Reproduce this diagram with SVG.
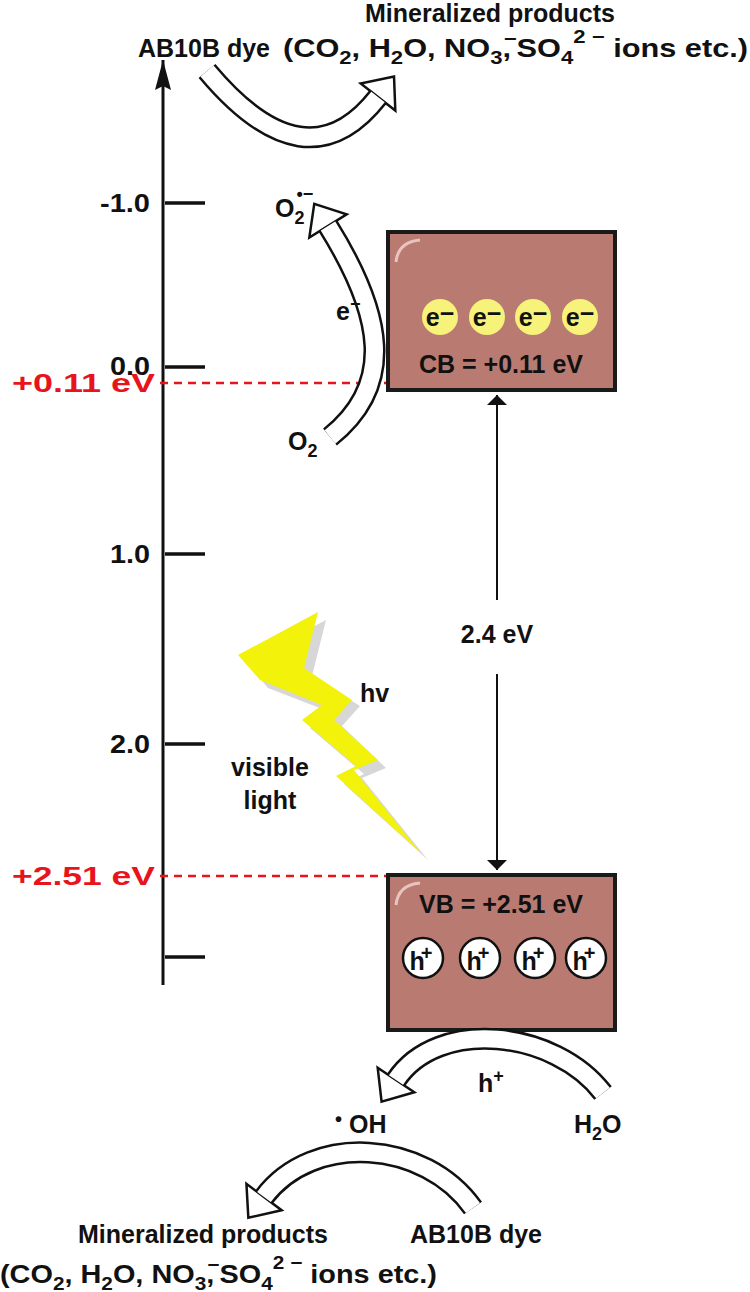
<svg xmlns="http://www.w3.org/2000/svg" width="750" height="1292" viewBox="0 0 750 1292">
<defs>
<style>
text{font-family:"Liberation Sans",Arial,sans-serif;font-weight:bold;font-size:25px;fill:#111}
.c{text-anchor:middle}.r{text-anchor:end}
.red{fill:#e8141b}
.s{font-size:18px}
.tick{stroke:#111;stroke-width:3.5}
.dash{stroke:#e8141b;stroke-width:2.5;stroke-dasharray:8,6}
.sk{fill:none;stroke:#111;stroke-width:22}
.sw{fill:none;stroke:#fff;stroke-width:17}
.box{fill:#b97a72;stroke:#1a1a1a;stroke-width:4}
.e{fill:#f6f27a}
.h{fill:#fff;stroke:#111;stroke-width:2.5}
</style>
<marker id="ar" viewBox="0 0 10 20" refX="10" refY="10" markerWidth="10" markerHeight="20" orient="auto" markerUnits="userSpaceOnUse"><path d="M0,0L10,10L0,20z" fill="#111"/></marker>
<marker id="ax" viewBox="0 0 30 16" refX="30" refY="8" markerWidth="30" markerHeight="16" orient="auto" markerUnits="userSpaceOnUse"><path d="M0,0L30,8L0,16L4,8z" fill="#111"/></marker>
<marker id="bh" viewBox="-2 -2 30 48" refX="0" refY="22" markerWidth="30" markerHeight="48" orient="auto" markerUnits="userSpaceOnUse" overflow="visible"><path d="M0,0L26,22L0,44z" fill="#fff" stroke="#111" stroke-width="2.5"/></marker>
</defs>
<g id="axis">
<line x1="163" y1="985" x2="163" y2="60" stroke="#111" stroke-width="3" marker-end="url(#ax)"/>
<line class="tick" x1="165" y1="203" x2="205" y2="203"/>
<line class="tick" x1="165" y1="367" x2="205" y2="367"/>
<line class="tick" x1="165" y1="554" x2="205" y2="554"/>
<line class="tick" x1="165" y1="744" x2="205" y2="744"/>
<line class="tick" x1="165" y1="957" x2="205" y2="957"/>
<text x="100" y="212" textLength="50" lengthAdjust="spacingAndGlyphs">-1.0</text>
<text x="110" y="375" textLength="40" lengthAdjust="spacingAndGlyphs">0.0</text>
<text x="110" y="563" textLength="40" lengthAdjust="spacingAndGlyphs">1.0</text>
<text x="110" y="753" textLength="40" lengthAdjust="spacingAndGlyphs">2.0</text>
<text class="red" x="12" y="392" textLength="143" lengthAdjust="spacingAndGlyphs">+0.11 eV</text>
<text class="red" x="12" y="885" textLength="143" lengthAdjust="spacingAndGlyphs">+2.51 eV</text>
<line class="dash" x1="160" y1="383" x2="388" y2="383"/>
<line class="dash" x1="160" y1="876" x2="388" y2="876"/>
</g>
<g id="cb">
<rect class="box" x="388" y="232" width="227" height="158"/>
<path d="M396,262 Q398,242 420,240" fill="none" stroke="#e9c4bf" stroke-width="3"/>
<circle class="e" cx="440" cy="317" r="18"/><circle class="e" cx="487" cy="317" r="18"/><circle class="e" cx="533" cy="317" r="18"/><circle class="e" cx="580" cy="317" r="18"/>
<text class="c" x="440" y="326">e<tspan dy="-4">−</tspan></text><text class="c" x="487" y="326">e<tspan dy="-4">−</tspan></text><text class="c" x="533" y="326">e<tspan dy="-4">−</tspan></text><text class="c" x="580" y="326">e<tspan dy="-4">−</tspan></text>
<text class="c" x="501" y="373">CB = +0.11 eV</text>
</g>
<g id="vb">
<rect class="box" x="388" y="875" width="227" height="155"/>
<path d="M396,905 Q398,885 420,883" fill="none" stroke="#e9c4bf" stroke-width="3"/>
<text class="c" x="501" y="913">VB = +2.51 eV</text>
<circle class="h" cx="423" cy="958" r="20"/><circle class="h" cx="480" cy="958" r="20"/><circle class="h" cx="535" cy="958" r="20"/><circle class="h" cx="586" cy="958" r="20"/>
<text class="c" x="421" y="970">h<tspan dx="-4" dy="-10" font-size="20">+</tspan></text>
<text class="c" x="478" y="970">h<tspan dx="-4" dy="-10" font-size="20">+</tspan></text>
<text class="c" x="533" y="970">h<tspan dx="-4" dy="-10" font-size="20">+</tspan></text>
<text class="c" x="584" y="970">h<tspan dx="-4" dy="-10" font-size="20">+</tspan></text>
</g>
<g id="connectors">
<line x1="497" y1="600" x2="497" y2="395" stroke="#111" stroke-width="2" marker-end="url(#ar)"/>
<line x1="497" y1="674" x2="497" y2="870" stroke="#111" stroke-width="2" marker-end="url(#ar)"/>
<path class="sk" d="M207,71 Q306,189 378,97" marker-end="url(#bh)"/>
<path class="sw" d="M207,71 Q306,189 378,97"/>
<path class="sk" d="M330,437 C395,385 384,316 328,226" marker-end="url(#bh)"/>
<path class="sw" d="M330,437 C395,385 384,316 328,226"/>
<path class="sk" d="M603,1093 C555,1030 438,1017 396,1080" marker-end="url(#bh)"/>
<path class="sw" d="M603,1093 C555,1030 438,1017 396,1080"/>
<path class="sk" d="M473,1208 C425,1140 313,1132 264,1197" marker-end="url(#bh)"/>
<path class="sw" d="M473,1208 C425,1140 313,1132 264,1197"/>
</g>
<g id="light">
<polygon points="246,662 326,620 312,676 360,706 342,726 386,768 362,778 428,860 344,784 364,774 310,728 330,712 268,688" fill="#bdbdbd" opacity="0.6"/>
<polygon points="238,655 318,612 304,668 352,700 334,720 378,760 354,770 420,852 336,776 356,766 302,720 322,705 260,680" fill="#f2f20a"/>
<text x="360" y="702">hv</text>
<text class="c" x="270" y="776">visible</text>
<text class="c" x="270" y="809">light</text>
</g>
<text class="c" x="497" y="643">2.4 eV</text>
<g id="labels">
<text class="c" x="490" y="22">Mineralized products</text>
<text x="283" y="57" textLength="465" lengthAdjust="spacingAndGlyphs">(CO<tspan class="s" dy="7">2</tspan><tspan dy="-7">, H</tspan><tspan class="s" dy="7">2</tspan><tspan dy="-7">O, NO</tspan><tspan class="s" dy="7">3</tspan><tspan dy="-7">,</tspan><tspan class="s" dx="-6" dy="-12">−</tspan><tspan dy="12">SO</tspan><tspan class="s" dy="7">4</tspan><tspan class="s" dy="-21">2 −</tspan><tspan dy="14"> ions etc.)</tspan></text>
<text class="c" x="204" y="57">AB10B dye</text>
<text x="275" y="217">O<tspan class="s" dy="7">2</tspan><tspan class="s" dx="-8" dy="-24">•−</tspan></text>
<text x="336" y="320" font-weight="normal">e<tspan class="s" dy="-10">−</tspan></text>
<text x="288" y="450">O<tspan class="s" dy="7">2</tspan></text>
<text x="478" y="1092">h<tspan class="s" dy="-10">+</tspan></text>
<text x="335" y="1133"><tspan font-size="20" dy="-7">•</tspan><tspan dy="7"> OH</tspan></text>
<text x="574" y="1133">H<tspan class="s" dy="7">2</tspan><tspan dy="-7">O</tspan></text>
<text class="c" x="203" y="1243">Mineralized products</text>
<text class="c" x="476" y="1243">AB10B dye</text>
<text x="0" y="1283" textLength="437" lengthAdjust="spacingAndGlyphs">(CO<tspan class="s" dy="7">2</tspan><tspan dy="-7">, H</tspan><tspan class="s" dy="7">2</tspan><tspan dy="-7">O, NO</tspan><tspan class="s" dy="7">3</tspan><tspan dy="-7">,</tspan><tspan class="s" dx="-6" dy="-12">−</tspan><tspan dy="12">SO</tspan><tspan class="s" dy="7">4</tspan><tspan class="s" dy="-21">2 −</tspan><tspan dy="14"> ions etc.)</tspan></text>
</g>
</svg>
